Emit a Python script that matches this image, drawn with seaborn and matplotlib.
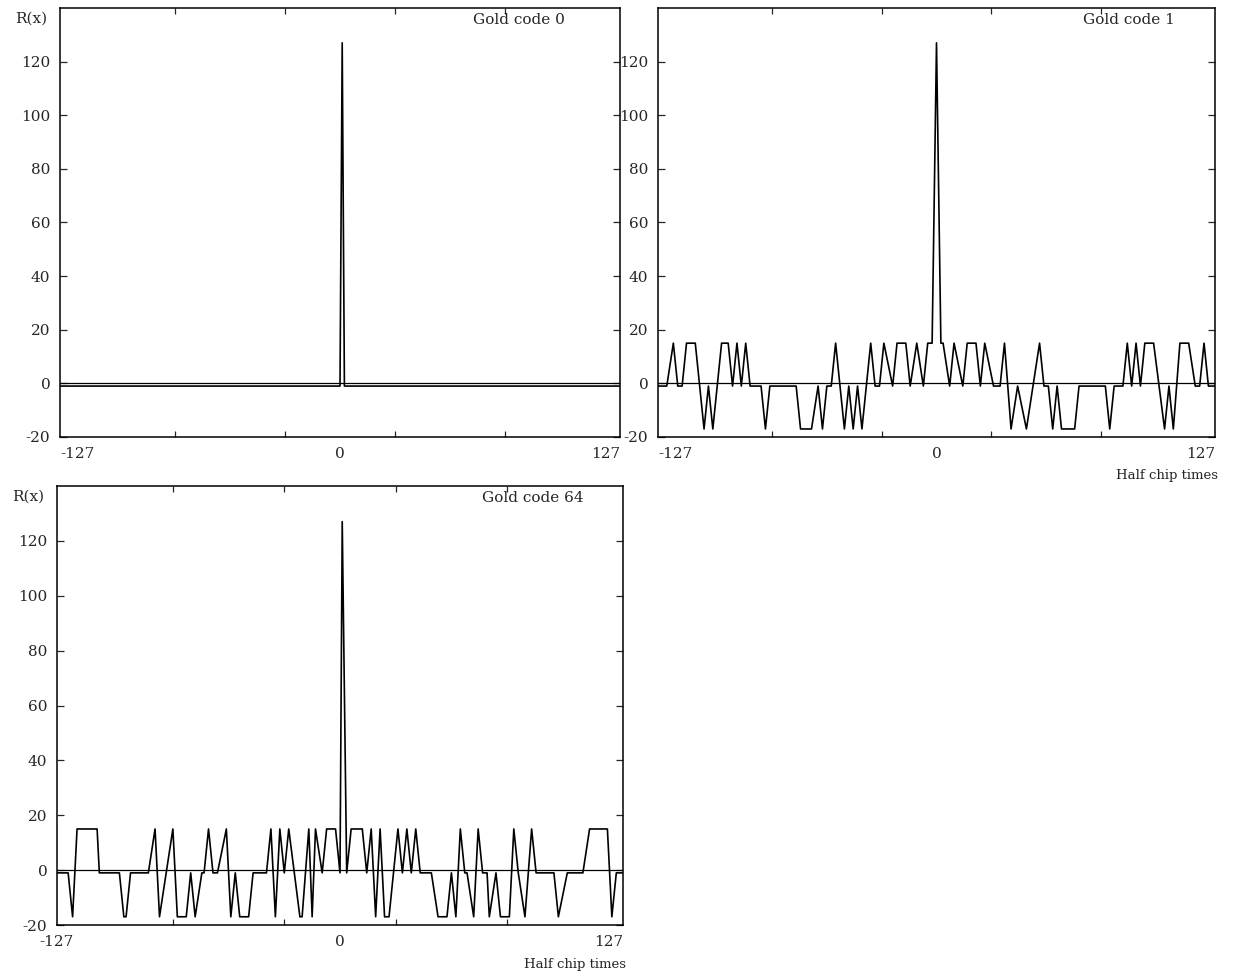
import matplotlib
matplotlib.use("Agg")
import matplotlib.pyplot as plt
import seaborn as sns
import pandas as pd

# ---- data (half chip offset, correlation value) ----
code0_x = [-127, 0, 1, 2, 127]
code0_r = [-1, -1, 127, -1, -1]

code1_x = [-127, -123, -120, -118, -116, -114, -110, -106, -104, -102, -98, -95, -93, -91,
           -89, -87, -85, -80, -78, -76, -64, -62, -57, -54, -52, -50, -48, -46, -42, -40,
           -38, -36, -34, -30, -28, -26, -24, -20, -18, -14, -12, -9, -6, -4, -2, 0, 2, 3,
           6, 8, 12, 14, 18, 20, 22, 26, 29, 31, 34, 37, 41, 47, 49, 51, 53, 55, 57, 63,
           65, 77, 79, 81, 85, 87, 89, 91, 93, 95, 99, 104, 106, 108, 111, 115, 118, 120,
           122, 124, 127]
code1_r = [-1, -1, 15, -1, -1, 15, 15, -17, -1, -17, 15, 15, -1, 15,
           -1, 15, -1, -1, -17, -1, -1, -17, -17, -1, -17, -1, -1, 15, -17, -1,
           -17, -1, -17, 15, -1, -1, 15, -1, 15, 15, -1, 15, -1, 15, 15, 127, 15, 15,
           -1, 15, -1, 15, 15, -1, 15, -1, -1, 15, -17, -1, -17, 15, -1, -1, -17, -1, -17, -17,
           -1, -1, -17, -1, -1, 15, -1, 15, -1, 15, 15, -17, -1, -17, 15, 15, -1, -1,
           15, -1, -1]

code64_x = [-127, -122, -120, -118, -109, -108, -99, -97, -96, -94, -86, -83, -81, -78, -75,
            -73, -69, -67, -65, -62, -61, -59, -57, -55, -51, -49, -47, -45, -41, -39, -33,
            -31, -29, -27, -25, -23, -18, -17, -14, -12.5, -11, -8, -6, -2, 0, 1, 3, 5, 10,
            12, 14, 16, 18, 20, 22, 26, 28, 30, 32, 34, 36, 41, 44, 48, 50, 52, 54, 56, 57,
            60, 62, 64, 66, 67, 70, 72, 76, 78, 80, 83, 86, 88, 96, 98, 102, 109, 112, 120,
            122, 124, 127]
code64_r = [-1, -1, -17, 15, 15, -1, -1, -17, -17, -1, -1, 15, -17, -1, 15,
            -17, -17, -1, -17, -1, -1, 15, -1, -1, 15, -17, -1, -17, -17, -1, -1,
            15, -17, 15, -1, 15, -17, -17, 15, -17, 15, -1, 15, 15, -1, 127, -1, 15, 15,
            -1, 15, -17, 15, -17, -17, 15, -1, 15, -1, 15, -1, -1, -17, -17, -1, -17, 15, -1, -1,
            -17, 15, -1, -1, -17, -1, -17, -17, 15, -1, -17, 15, -1, -1, -17, -1, -1, 15, 15,
            -17, -1, -1]

titles = ["Gold code 0", "Gold code 1", "Gold code 64"]
x_ticks = [-127, 0, 127]
x_minor = [-75, -25, 25, 75]
y_ticks = [-20, 0, 20, 40, 60, 80, 100, 120]

sns.set_style("ticks")
plt.rcParams["font.family"] = ["DejaVu Serif"]
plt.rcParams["font.size"] = 10.5

fig = plt.figure(figsize=(12.34, 9.72), dpi=100)
W, H = 1234, 972
ax1 = fig.add_axes([60 / W, 1 - 437 / H, 560 / W, 429 / H])
ax2 = fig.add_axes([658 / W, 1 - 437 / H, 557 / W, 429 / H])
ax3 = fig.add_axes([57 / W, 1 - 925 / H, 566 / W, 439 / H])

panels = [
    (ax1, code0_x, code0_r, titles[0], ("left", "right"), False, 0.902),
    (ax2, code1_x, code1_r, titles[1], ("left", "right"), True, 0.928),
    (ax3, code64_x, code64_r, titles[2], ("center", "right"), True, 0.93),
]

for ax, xs, rs, title, aligns, half_label, tx in panels:
    df = pd.DataFrame({"x": xs, "r": rs})
    ax.axhline(0, color="black", lw=0.9, zorder=1)
    sns.lineplot(data=df, x="x", y="r", ax=ax, color="black", lw=1.2,
                 estimator=None, sort=False, zorder=2)
    ax.set_xlim(-127, 127)
    ax.set_ylim(-20, 140)
    ax.set_xlabel("")
    ax.set_ylabel("")
    for sp in ax.spines.values():
        sp.set_visible(True)
        sp.set_color("black")
        sp.set_linewidth(1.1)
    ax.set_xticks(x_ticks)
    ax.set_xticklabels([str(t) for t in x_ticks])
    ax.set_xticks(x_minor, minor=True)
    ax.set_yticks(y_ticks)
    ax.set_yticklabels([str(t) for t in y_ticks])
    ax.tick_params(axis="x", which="major", length=0, pad=7, labelsize=11)
    ax.tick_params(axis="x", which="minor", direction="in", length=4, width=0.9,
                   top=True, bottom=True)
    ax.tick_params(axis="y", which="major", direction="in", length=5, width=0.9,
                   left=True, right=True, pad=7, labelsize=11)
    labs = ax.get_xticklabels()
    labs[0].set_ha(aligns[0])
    labs[-1].set_ha(aligns[1])
    ax.text(tx, 0.972, title, transform=ax.transAxes, ha="right", va="center",
            fontsize=11)
    ax.grid(False)
    if half_label:
        ax.text(1.005, -0.09, "Half chip times", transform=ax.transAxes,
                ha="right", va="center", fontsize=9.5)

for ax in (ax1, ax3):
    ax.text(-0.022, 0.975, "R(x)", transform=ax.transAxes, ha="right",
            va="center", fontsize=11)

fig.savefig("out.png", dpi=100)
